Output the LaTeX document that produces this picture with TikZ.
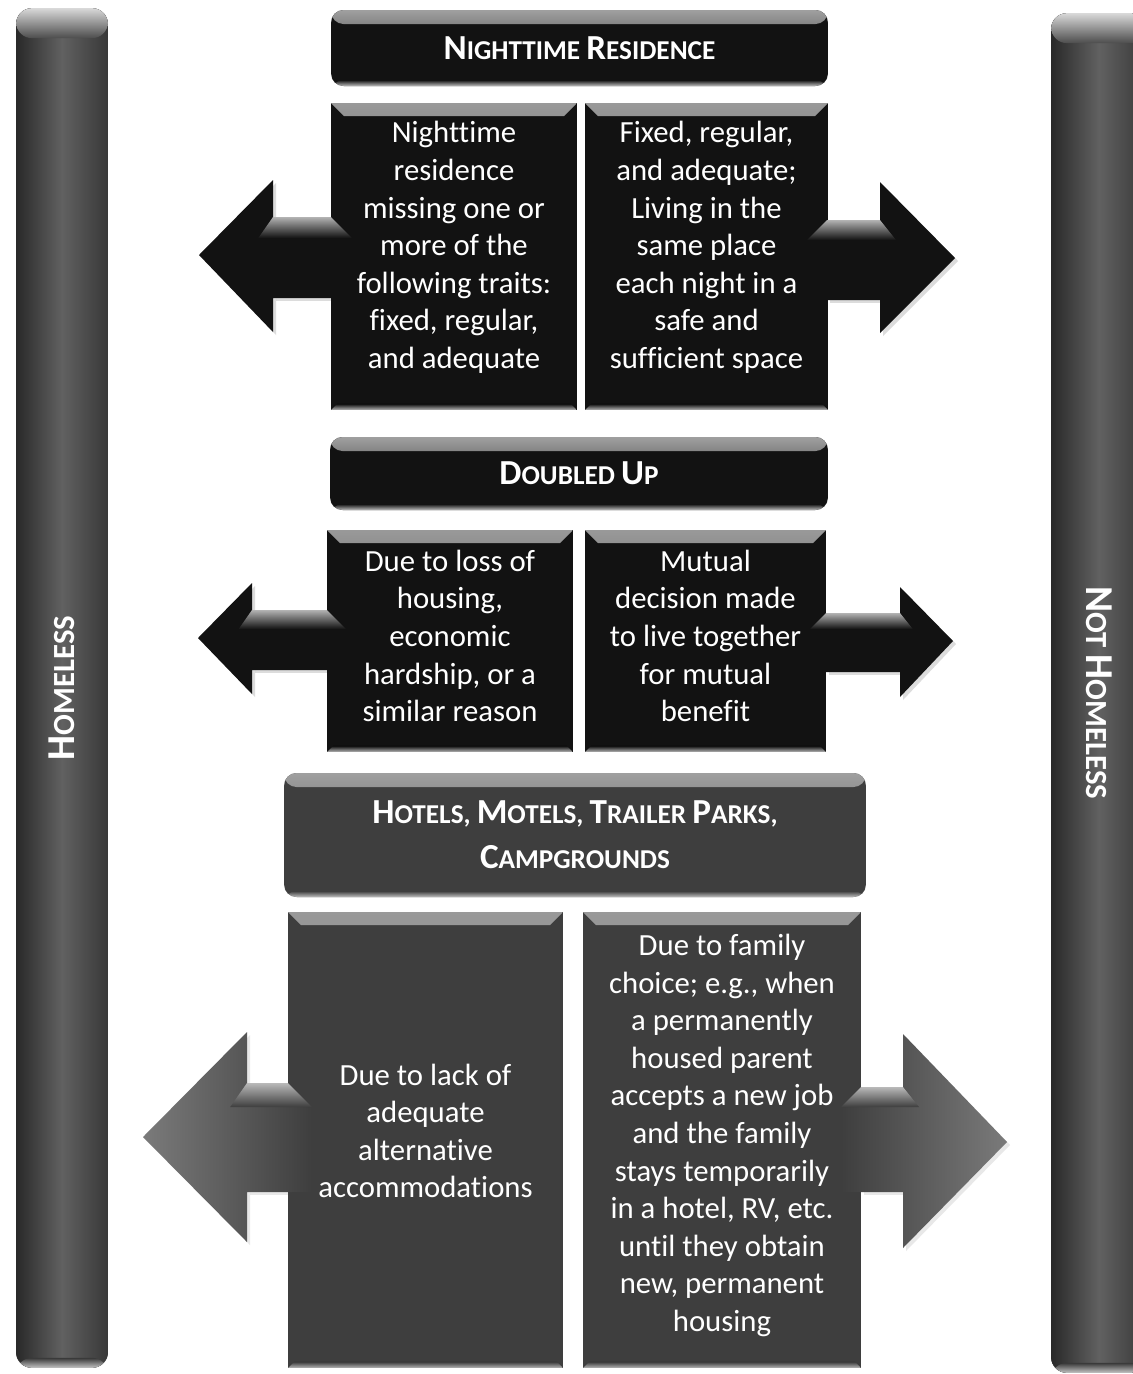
\documentclass[tikz,border=0pt]{standalone}
\usepackage{fontspec}
\setmainfont{Carlito}[Ligatures=NoCommon]
\usepackage{graphicx}
\definecolor{ink}{HTML}{121212}
\definecolor{slate}{HTML}{3E3E3E}
\definecolor{barc}{HTML}{4C4C4C}
\newcommand{\HdCap}[1]{{\fontsize{20}{24}\selectfont #1}}
\newcommand{\VtCap}[1]{{\fontsize{22.5}{26}\selectfont #1}}
\newcommand{\hdrfont}{\bfseries\fontsize{15.5}{25.6}\selectfont}
\newcommand{\vtfont}{\bfseries\fontsize{17.5}{20}\selectfont}
\newcommand{\bodyfont}{\fontsize{17.5}{21.4}\selectfont}
% left-pointing block arrow: tipx tipy backx headtop headbot shafttop shaftbot edgex bevel
\newcommand{\leftarr}[9]{%
  \fill[arrshadow,shift={(3,3)}] (#1,#2) -- (#3,#4) -- (#3,#5) -- cycle;
  \fill[arrshadow,shift={(3,3)}] (#3,#6) rectangle ({#8-3},#7);
  \path[arrowbody] (#1,#2) -- (#3,#4) -- (#3,#6) -- (#8,#6) -- ({#8+#9},{#6+#9}) -- ({#8+#9},#7) -- (#3,#7) -- (#3,#5) -- cycle;
  \path[arrowband] (#3,#6) -- (#8,#6) -- ({#8+#9},{#6+#9}) -- ({#3-0.7*#9},{#6+#9}) -- cycle;
}
\newcommand{\rightarr}[9]{%
  \fill[arrshadow,shift={(3,3)}] (#1,#2) -- (#3,#4) -- (#3,#5) -- cycle;
  \fill[arrshadow,shift={(3,3)}] (#8,#6) rectangle (#3,#7);
  \path[arrowbody] (#1,#2) -- (#3,#4) -- (#3,#6) -- (#8,#6) -- ({#8-#9},{#6+#9}) -- ({#8-#9},#7) -- (#3,#7) -- (#3,#5) -- cycle;
  \path[arrowband] (#8,#6) -- (#3,#6) -- ({#3+0.8*#9},{#6+#9}) -- ({#8-#9},{#6+#9}) -- cycle;
}
\begin{document}
\begin{tikzpicture}[x=0.02cm,y=-0.02cm,
  shapebox/.style={rectangle, inner sep=0pt, outer sep=0pt, fill=#1, path picture={
     \shade[top color=gray!80, bottom color=#1] (path picture bounding box.north west) -- (path picture bounding box.north east) -- ([xshift=-0.26cm,yshift=-0.26cm]path picture bounding box.north east) -- ([xshift=0.26cm,yshift=-0.26cm]path picture bounding box.north west) -- cycle;
     \shade[top color=#1, bottom color=gray!55] ([xshift=0.12cm,yshift=0.12cm]path picture bounding box.south west) -- ([xshift=-0.12cm,yshift=0.12cm]path picture bounding box.south east) -- (path picture bounding box.south east) -- (path picture bounding box.south west) -- cycle;
  }},
  hdrbox/.style={rectangle, rounded corners=0.25cm, inner sep=0pt, outer sep=0pt, fill=#1, text=white, align=center, font=\hdrfont, path picture={
     \shade[top color=gray!75, bottom color=#1] (path picture bounding box.north west) rectangle ([yshift=-0.28cm]path picture bounding box.north east);
     \shade[top color=#1, bottom color=gray!50] ([yshift=0.12cm]path picture bounding box.south west) rectangle (path picture bounding box.south east);
  }},
  barnode/.style={rectangle, rounded corners=0.32cm, inner sep=0pt, outer sep=0pt, fill=barc, text=white, font=\vtfont, path picture={
     \shade[left color=black!84, right color=black!78, middle color=black!62] (path picture bounding box.south west) rectangle (path picture bounding box.north east);
     \shade[top color=gray!30, bottom color=black!70] (path picture bounding box.north west) rectangle ([yshift=-0.6cm]path picture bounding box.north east);
     \shade[top color=black!78, bottom color=gray!45] ([yshift=0.2cm]path picture bounding box.south west) rectangle (path picture bounding box.south east);
  }},
  bodytxt/.style={text=white, align=center, font=\bodyfont, inner sep=0pt},
  arrshadow/.style={fill=gray!60, opacity=0.45},
  arrowbody/.style={fill=ink},
  arrowband/.style={top color=gray!60, bottom color=ink}
]
\useasboundingbox (0,0) rectangle (1133,1374);
\fill[white] (0,0) rectangle (1133,1374);

% side bars
\node[barnode, minimum width=1.84cm, minimum height=27.2cm] (homeless) at (62,688) {\rotatebox{90}{\VtCap{H}OMELESS}};
\node[barnode, minimum width=1.92cm, minimum height=27.2cm] (nothomeless) at (1099,693) {\rotatebox{-90}{\VtCap{N}OT \VtCap{H}OMELESS}};

% headers
\node[hdrbox=ink, minimum width=9.94cm, minimum height=1.52cm] (hdr1) at (579.5,48) {\HdCap{N}IGHTTIME \HdCap{R}ESIDENCE};
\node[hdrbox=ink, minimum width=9.96cm, minimum height=1.46cm] (hdr2) at (579,473.5) {\HdCap{D}OUBLED \HdCap{U}P};
\node[hdrbox=slate, minimum width=11.64cm, minimum height=2.48cm] (hdr3) at (575,835) {\HdCap{H}OTELS, \HdCap{M}OTELS, \HdCap{T}RAILER \HdCap{P}ARKS,\\\HdCap{C}AMPGROUNDS};

% boxes
\node[shapebox=ink, minimum width=4.92cm, minimum height=6.14cm] (b1l) at (454,256.5) {};
\node[shapebox=ink, minimum width=4.86cm, minimum height=6.14cm] (b1r) at (706.5,256.5) {};
\node[shapebox=ink, minimum width=4.92cm, minimum height=4.44cm] (b2l) at (450,641) {};
\node[shapebox=ink, minimum width=4.82cm, minimum height=4.44cm] (b2r) at (705.5,641) {};
\node[shapebox=slate, minimum width=5.5cm, minimum height=9.12cm] (b3l) at (425.5,1140) {};
\node[shapebox=slate, minimum width=5.56cm, minimum height=9.12cm] (b3r) at (722,1140) {};

% arrows
\leftarr{199}{255}{273}{180}{332}{217}{298}{331}{21}
\rightarr{955}{258}{880}{182}{333}{220}{300}{827}{20}
\leftarr{198}{638}{252}{583}{694}{610}{670}{327}{19}
\rightarr{953}{641}{900}{587}{697}{613}{672}{826}{16}
\begin{scope}[arrowbody/.style={left color=black!52, right color=slate}, arrowband/.style={top color=gray!55, bottom color=slate}, arrshadow/.style={fill=gray!50, opacity=0.35}]
\leftarr{143}{1137}{247}{1032}{1242}{1083}{1192}{288}{24}
\end{scope}
\begin{scope}[arrowbody/.style={left color=slate, right color=black!52}, arrowband/.style={top color=gray!55, bottom color=slate}, arrshadow/.style={fill=gray!50, opacity=0.35}]
\rightarr{1007}{1142}{903}{1034}{1248}{1087}{1192}{861}{20}
\end{scope}

% texts
\node[bodytxt, yshift=0.18cm] (t1l) at (b1l.center) {Nighttime\\residence\\missing one or\\more of the\\following traits:\\fixed, regular,\\and adequate};
\node[bodytxt, yshift=0.18cm] (t1r) at (b1r.center) {Fixed, regular,\\and adequate;\\Living in the\\same place\\each night in a\\safe and\\sufficient space};
\node[bodytxt, yshift=0.1cm] (t2l) at (b2l.center) {Due to loss of\\housing,\\economic\\hardship, or a\\similar reason};
\node[bodytxt, yshift=0.1cm] (t2r) at (b2r.center) {Mutual\\decision made\\to live together\\for mutual\\benefit};
\node[bodytxt, yshift=0.18cm] (t3l) at (b3l.center) {Due to lack of\\adequate\\alternative\\accommodations};
\node[bodytxt, yshift=0.09cm] (t3r) at (b3r.center) {Due to family\\choice; e.g., when\\a permanently\\housed parent\\accepts a new job\\and the family\\stays temporarily\\in a hotel, RV, etc.\\until they obtain\\new, permanent\\housing};
\end{tikzpicture}
\end{document}
